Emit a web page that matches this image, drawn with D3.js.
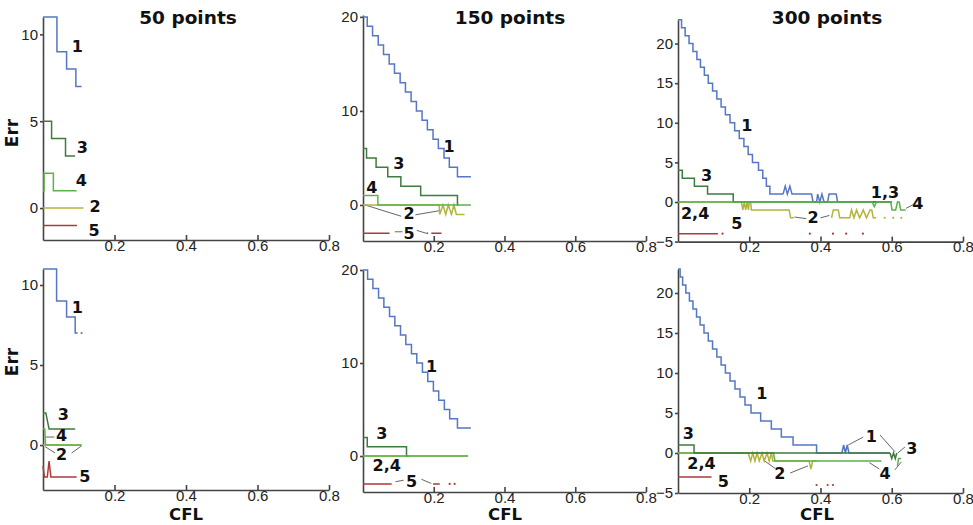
<!DOCTYPE html>
<html>
<head>
<meta charset="utf-8">
<script src="https://cdn.jsdelivr.net/npm/d3@7"></script>
<style>
  body { margin: 0; background: #fff; }
  .tick text { font-family: "Liberation Sans", Arial, sans-serif; font-size: 15px; fill: #222; }
  .domain, .tick line { stroke: #444; stroke-width: 1.6; }
  .bold { font-family: "DejaVu Sans", sans-serif; font-weight: bold; fill: #111; }
</style>
</head>
<body>
<svg id="chart" width="973" height="525"></svg>
<script>
/*global d3*/
// CFL, Err pairs. null = gap in the curve

// 50 points, top
const t50_1 = [[0,11],[0.039,9],[0.066,8],[0.092,7],[0.108,7]]
const t50_2 = [[0,0],[0.113,0]]
const t50_3 = [[0,5],[0.024,4],[0.063,3],[0.09,3]]
const t50_4 = [[0,1],[0.003,2],[0.029,1],[0.094,1]]
const t50_5 = [[0,-1],[0.095,-1]]

// 150 points, top
const t150_1 = [[0,20],[0.012,19],[0.027,18],[0.043,17],[0.058,16],[0.074,15],[0.089,14],[0.105,13],[0.12,12],[0.136,11],[0.151,10],[0.167,9],[0.182,8],[0.198,7],[0.213,6],[0.229,5],[0.244,4],[0.267,3],[0.305,3]]
const t150_2 = [[0,0],[0.215,0],[0.217,-1],[0.226,0],[0.234,-1],[0.241,0],[0.25,-1],[0.257,0],[0.264,-1],[0.287,-1]]
const t150_3 = [[0,6],[0.010,5],[0.037,4],[0.070,3],[0.107,2],[0.163,1],[0.267,0],[0.27,0]]
const t150_4 = [[0,1],[0.042,0],[0.305,0]]
const t150_5 = [[0,-3],[0.075,-3],null,[0.179,-3],[0.184,-3],null,[0.193,-3],[0.222,-3]]

// 300 points, top
const t300_1 = [[0,23],[0.010,22],[0.020,21],[0.031,20],[0.042,19],[0.053,18],[0.063,17],[0.074,16],[0.085,15],[0.097,14],[0.109,13],[0.121,12],[0.133,11],[0.146,10],[0.159,9],[0.172,8],[0.185,7],[0.197,6],[0.209,5],[0.226,4],[0.238,3],[0.248,2],[0.258,1],[0.295,1]]
const t300_1b = [[0.295,1],[0.301,2],[0.307,1],[0.314,2],[0.32,1],[0.375,1],[0.379,0],[0.389,0],[0.392,1],[0.398,0],[0.404,1],[0.41,0],[0.42,0],[0.424,1],[0.444,1],[0.448,0],[0.6,0]]
const t300_2 = [[0,0],[0.178,0],[0.182,-1],[0.186,0],[0.19,-1],[0.194,0],[0.198,-1],[0.2,0],[0.204,0],[0.206,-1],[0.312,-1],[0.316,-2],[0.325,-2],null,[0.431,-2],[0.436,-1],[0.45,-1],[0.454,-2],[0.482,-2],[0.487,-1],[0.494,-2],[0.501,-1],[0.51,-2],[0.52,-1],[0.529,-2],[0.539,-1],[0.544,-1],[0.548,-2],[0.556,-2]]
const t300_2dots = [[0.58,-2],[0.604,-2],[0.627,-2]]
const t300_3 = [[0,4],[0.012,3],[0.046,2],[0.083,1],[0.155,0],[0.6,0]]
const t300_4 = [[0,0],[0.545,0],[0.551,-0.6],[0.557,0],[0.597,0],[0.601,-1],[0.611,-1],[0.616,0],[0.621,0],[0.625,-1],[0.639,-1]]
const t300_5 = [[0,-4],[0.112,-4]]
const t300_5dots = [[0.125,-4],[0.37,-4],[0.435,-4],[0.472,-4],[0.519,-4]]

// 50 points, bottom
const b50_1 = [[0,11],[0.038,9],[0.066,8],[0.09,7],[0.097,7]]
const b50_1dots = [[0.108,7]]
const b50_2 = [[0,0],[0.108,0]]
const b50_3 = [[0,2],[0.008,2],[0.017,1],[0.09,1]]
const b50_4 = [[0,1],[0.005,1],[0.007,0],[0.108,0]]
const b50_5 = [[0,-1.3],[0.004,-2],[0.012,-2],[0.017,-1],[0.022,-2],[0.094,-2]]

// 150 points, bottom
const b150_1 = [[0,20],[0.013,19],[0.028,18],[0.044,17],[0.059,16],[0.075,15],[0.09,14],[0.106,13],[0.121,12],[0.137,11],[0.152,10],[0.168,9],[0.183,8],[0.199,7],[0.214,6],[0.23,5],[0.245,4],[0.267,3],[0.305,3]]
const b150_2 = [[0,0],[0.297,0]]
const b150_3 = [[0,2],[0.012,1],[0.123,0],[0.13,0]]
const b150_4 = [[0,0],[0.297,0]]
const b150_5 = [[0,-3],[0.081,-3],null,[0.198,-3],[0.217,-3]]
const b150_5dots = [[0.245,-3],[0.259,-3]]

// 300 points, bottom
const b300_1 = [[0,23],[0.006,22],[0.013,21],[0.022,20],[0.032,19],[0.042,18],[0.052,17],[0.062,16],[0.073,15],[0.085,14],[0.097,13],[0.109,12],[0.121,11],[0.133,10],[0.146,9],[0.16,8],[0.174,7],[0.188,6],[0.205,5],[0.232,4],[0.262,3],[0.29,2],[0.323,1],[0.389,0],[0.46,0]]
const b300_1b = [[0.46,0],[0.465,1],[0.47,0],[0.475,1],[0.48,0],[0.595,0]]
const b300_2 = [[0,0],[0.197,0],[0.204,-1],[0.21,0],[0.216,-1],[0.222,0],[0.228,-1],[0.236,0],[0.242,-1],[0.25,0],[0.256,-1],[0.262,0],[0.266,-1],[0.368,-1],[0.373,-2],[0.378,-1],[0.39,-1]]
const b300_3 = [[0,1],[0.045,0],[0.595,0]]
const b300_3b = [[0.595,0],[0.6,-0.7],[0.605,0],[0.61,-0.7],[0.614,0]]
const b300_4 = [[0,0],[0.268,0],[0.272,-1],[0.571,-1],null,[0.616,-1.6],[0.619,-0.7],[0.626,-0.7]]
const b300_5 = [[0,-3],[0.094,-3]]
const b300_5dots = [[0.389,-4],[0.42,-4],[0.435,-4]]

// curve labels [text, CFL, Err] and leader lines
const lab_t50 = [["1",0.096,9.3],["3",0.11,3.5],["4",0.107,1.6],["2",0.146,0.07],["5",0.143,-1.27]]
const lab_t150 = [["1",0.243,6.2],["3",0.101,4.36],["4",0.025,1.9],["2",0.13,-0.95],["5",0.13,-3.05]]
const lab_t300 = [["1",0.193,9.7],["3",0.08,3.3],["1,3",0.581,1.26],["4",0.673,-0.25],["2",0.379,-1.9],["2,4",0.048,-1.4],["5",0.165,-2.7]]
const lab_b50 = [["1",0.096,8.58],["3",0.057,1.88],["4",0.052,0.6],["2",0.052,-0.6],["5",0.117,-1.98]]
const lab_b150 = [["1",0.194,9.6],["3",0.053,2.37],["2,4",0.067,-0.97],["5",0.137,-2.76]]
const lab_b300 = [["1",0.235,7.46],["1",0.543,2.04],["3",0.029,2.46],["3",0.656,0.59],["2,4",0.066,-1.29],["2",0.286,-2.54],["4",0.581,-2.54],["5",0.127,-3.59]]

const ldr_t150 = [[[0.006,0],[0.108,-1.2]],[[0.148,-1.05],[0.217,-0.6]],[[0.09,-2.85],[0.112,-2.85]],[[0.152,-2.7],[0.178,-3]]]
const ldr_t300 = [[[0.327,-1.9],[0.36,-2.1]],[[0.4,-2.0],[0.425,-1.7]],[[0.64,-0.8],[0.66,-0.35]]]
const ldr_b50 = [[[0.008,0.5],[0.032,0.5]],[[0.006,-0.1],[0.034,-0.5]],[[0.08,-0.5],[0.108,-0.05]]]
const ldr_b150 = [[[0.092,-2.76],[0.115,-2.6]],[[0.165,-2.5],[0.193,-2.95]]]
const ldr_b300 = [[[0.478,1.0],[0.52,2.0]],[[0.567,2.25],[0.609,0.16]],[[0.637,0.75],[0.617,0]],[[0.24,-0.9],[0.272,-1.9]],[[0.315,-2.5],[0.365,-1.6]],[[0.537,-1.2],[0.565,-2.0]],[[0.609,-2.1],[0.627,-1.1]]]

const titles = ["50 points", "150 points", "300 points"]
const xTicks = [0.2, 0.4, 0.6, 0.8]
const colors = {1: "#5577c6", 2: "#b3b43c", 3: "#3e7b3e", 4: "#5bb34a", 5: "#b03838"}

// layout
const colX = [43, 363, 678]
const colW = [286, 283, 285]

const panels = [
  {col: 0, yDomain: [-1.84, 11], yRange: [240, 17], yTicks: [0, 5, 10],
   lines: [[t50_5, 5, "s"], [t50_2, 2, "s"], [t50_1, 1, "s"], [t50_3, 3, "s"], [t50_4, 4, "s"]],
   dots: [], labels: lab_t50, leaders: []},
  {col: 1, yDomain: [-3.83, 20.2], yRange: [241, 15], yTicks: [0, 10, 20],
   lines: [[t150_5, 5, "s"], [t150_2, 2, "l"], [t150_1, 1, "s"], [t150_3, 3, "s"], [t150_4, 4, "s"]],
   dots: [], labels: lab_t150, leaders: ldr_t150},
  {col: 2, yDomain: [-5, 23], yRange: [241.6, 19.8], yTicks: [-5, 0, 5, 10, 15, 20],
   lines: [[t300_5, 5, "s"], [t300_2, 2, "l"], [t300_1, 1, "s"], [t300_1b, 1, "l"], [t300_3, 3, "s"], [t300_4, 4, "l"]],
   dots: [[t300_2dots, 2], [t300_5dots, 5]], labels: lab_t300, leaders: ldr_t300},
  {col: 0, yDomain: [-2.81, 11], yRange: [490, 269], yTicks: [0, 5, 10],
   lines: [[b50_5, 5, "l"], [b50_2, 2, "s"], [b50_1, 1, "s"], [b50_3, 3, "l"], [b50_4, 4, "l"]],
   dots: [[b50_1dots, 1]], labels: lab_b50, leaders: ldr_b50},
  {col: 1, yDomain: [-3.87, 20], yRange: [492, 270], yTicks: [0, 10, 20],
   lines: [[b150_5, 5, "s"], [b150_2, 2, "s"], [b150_1, 1, "s"], [b150_3, 3, "s"], [b150_4, 4, "s"]],
   dots: [[b150_5dots, 5]], labels: lab_b150, leaders: ldr_b150},
  {col: 2, yDomain: [-5, 23], yRange: [493, 269], yTicks: [-5, 0, 5, 10, 15, 20],
   lines: [[b300_5, 5, "s"], [b300_2, 2, "l"], [b300_1, 1, "s"], [b300_1b, 1, "l"], [b300_4, 4, "l"], [b300_3, 3, "s"], [b300_3b, 3, "l"]],
   dots: [[b300_5dots, 5]], labels: lab_b300, leaders: ldr_b300}
]

const svg = d3.select("#chart")

panels.forEach(p => {
  const x0 = colX[p.col]
  const x = d3.scaleLinear().domain([0, 0.8]).range([x0, x0 + colW[p.col]])
  const y = d3.scaleLinear().domain(p.yDomain).range(p.yRange)
  const g = svg.append("g")

  g.append("g")
    .attr("transform", `translate(0,${p.yRange[0]})`)
    .call(d3.axisBottom(x).tickValues(xTicks).tickFormat(d3.format(".1f"))
      .tickSizeInner(-5).tickSizeOuter(0).tickPadding(0))

  g.append("g")
    .attr("transform", `translate(${x0},0)`)
    .call(d3.axisLeft(y).tickValues(p.yTicks).tickSize(3).tickSizeOuter(0).tickPadding(2))

  // leader lines
  g.selectAll(".ldr")
    .data(p.leaders)
    .join("line")
    .attr("x1", d => x(d[0][0])).attr("y1", d => y(d[0][1]))
    .attr("x2", d => x(d[1][0])).attr("y2", d => y(d[1][1]))
    .attr("stroke", "#666").attr("stroke-width", 1)

  p.lines.forEach(([data, s, kind]) => {
    const line = d3.line()
      .defined(d => d !== null)
      .x(d => x(d[0])).y(d => y(d[1]))
      .curve(kind === "s" ? d3.curveStepAfter : d3.curveLinear)
    g.append("path")
      .attr("d", line(data))
      .attr("fill", "none")
      .attr("stroke", colors[s])
      .attr("stroke-width", 1.5)
  })

  p.dots.forEach(([data, s]) => {
    g.selectAll(null)
      .data(data)
      .join("circle")
      .attr("cx", d => x(d[0])).attr("cy", d => y(d[1]))
      .attr("r", 1.1)
      .attr("fill", colors[s])
  })

  g.selectAll(".lab")
    .data(p.labels)
    .join("text")
    .attr("class", "bold")
    .attr("x", d => x(d[1]))
    .attr("y", d => y(d[2]))
    .attr("text-anchor", "middle")
    .attr("dominant-baseline", "central")
    .attr("font-size", 16)
    .text(d => d[0])
})

// titles and axis names
const titleX = [188, 510, 827]
svg.selectAll(".title")
  .data(titles)
  .join("text")
  .attr("class", "bold")
  .attr("x", (d, i) => titleX[i])
  .attr("y", 24)
  .attr("text-anchor", "middle")
  .attr("font-size", 18.5)
  .text(d => d)

const cflX = [186, 505, 817]
svg.selectAll(".cfl")
  .data(cflX)
  .join("text")
  .attr("class", "bold")
  .attr("x", d => d)
  .attr("y", 520)
  .attr("text-anchor", "middle")
  .attr("font-size", 16.5)
  .text("CFL")

svg.selectAll(".err")
  .data([133, 362])
  .join("text")
  .attr("class", "bold")
  .attr("transform", d => `translate(18,${d}) rotate(-90)`)
  .attr("text-anchor", "middle")
  .attr("font-size", 17)
  .text("Err")
</script>
</body>
</html>
